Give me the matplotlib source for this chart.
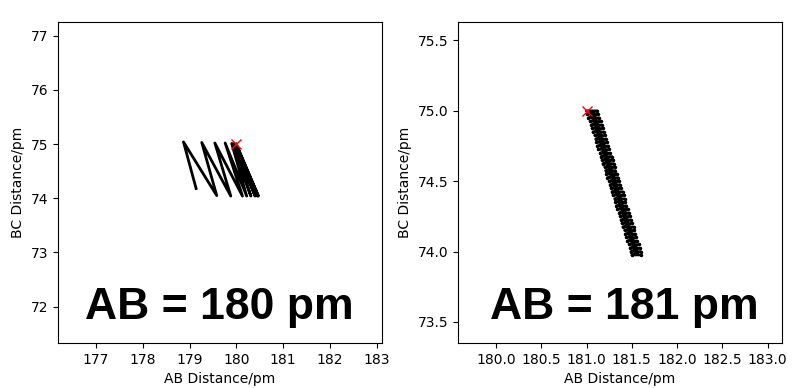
import matplotlib.pyplot as plt

# left run: AB starts at 180 pm, turning points of the trajectory
ab_180 = [180.00, 180.47, 179.99, 180.45, 179.97, 180.40, 179.94, 180.31,
          179.90, 180.22, 179.76, 180.13, 179.54, 179.88, 179.26, 179.58,
          178.87, 179.14]
bc_180 = [75.00, 74.04, 75.00, 74.04, 75.00, 74.04, 75.01, 74.04,
          75.01, 74.04, 75.02, 74.04, 75.02, 74.04, 75.03, 74.05,
          75.04, 74.18]

# right run: AB starts at 181 pm, band edges read row by row
bc_rows = [75.000, 74.975, 74.950, 74.925, 74.900, 74.875, 74.850, 74.825,
           74.800, 74.775, 74.750, 74.725, 74.700, 74.675, 74.650, 74.625,
           74.600, 74.575, 74.550, 74.525, 74.500, 74.475, 74.450, 74.425,
           74.400, 74.375, 74.350, 74.325, 74.300, 74.275, 74.250, 74.225,
           74.200, 74.175, 74.150, 74.125, 74.100, 74.075, 74.050, 74.025,
           74.000, 73.975]
ab_left = [181.00, 181.01, 181.02, 181.04, 181.05, 181.06, 181.07, 181.09,
           181.10, 181.11, 181.12, 181.13, 181.15, 181.16, 181.17, 181.18,
           181.20, 181.21, 181.22, 181.23, 181.25, 181.26, 181.27, 181.28,
           181.29, 181.31, 181.32, 181.33, 181.34, 181.36, 181.37, 181.38,
           181.39, 181.40, 181.42, 181.43, 181.44, 181.45, 181.47, 181.48,
           181.49, 181.50]
ab_right = [181.12, 181.13, 181.14, 181.16, 181.17, 181.18, 181.19, 181.20,
            181.22, 181.23, 181.24, 181.25, 181.26, 181.28, 181.29, 181.30,
            181.31, 181.32, 181.34, 181.35, 181.36, 181.37, 181.38, 181.40,
            181.41, 181.42, 181.43, 181.44, 181.46, 181.47, 181.48, 181.49,
            181.50, 181.52, 181.53, 181.54, 181.55, 181.56, 181.58, 181.59,
            181.60, 181.60]

ab_181, bc_181 = [], []
for y, xl, xr in zip(bc_rows, ab_left, ab_right):
    ab_181 += [xl, xr]
    bc_181 += [y, y]

fig = plt.figure(figsize=(8, 3.88), dpi=100)
ax1 = fig.add_axes([0.0725, 0.116, 0.405, 0.827])
ax2 = fig.add_axes([0.5725, 0.116, 0.405, 0.827])

ax1.plot(ab_180, bc_180, 'k-', lw=2.0)
ax1.plot(180, 75, 'rx', ms=7)
ax1.set_xlim(176.19, 183.11)
ax1.set_ylim(71.33, 77.25)
ax1.text(0.497, 0.075, 'AB = 180 pm', transform=ax1.transAxes, ha='center',
         va='baseline', fontsize=32, fontweight='bold', family='Liberation Sans')

ax2.plot(ab_181, bc_181, 'k.-', lw=1.8, ms=3)
ax2.plot(181, 75, 'rx', ms=7)
ax2.set_xlim(179.58, 183.16)
ax2.set_ylim(73.35, 75.63)
ax2.set_xticks([180.0, 180.5, 181.0, 181.5, 182.0, 182.5, 183.0])
ax2.set_yticks([73.5, 74.0, 74.5, 75.0, 75.5])
ax2.text(0.512, 0.075, 'AB = 181 pm', transform=ax2.transAxes, ha='center',
         va='baseline', fontsize=32, fontweight='bold', family='Liberation Sans')

for ax in (ax1, ax2):
    ax.set_xlabel('AB Distance/pm')
    ax.set_ylabel('BC Distance/pm')

fig.savefig('out.png', dpi=100)
